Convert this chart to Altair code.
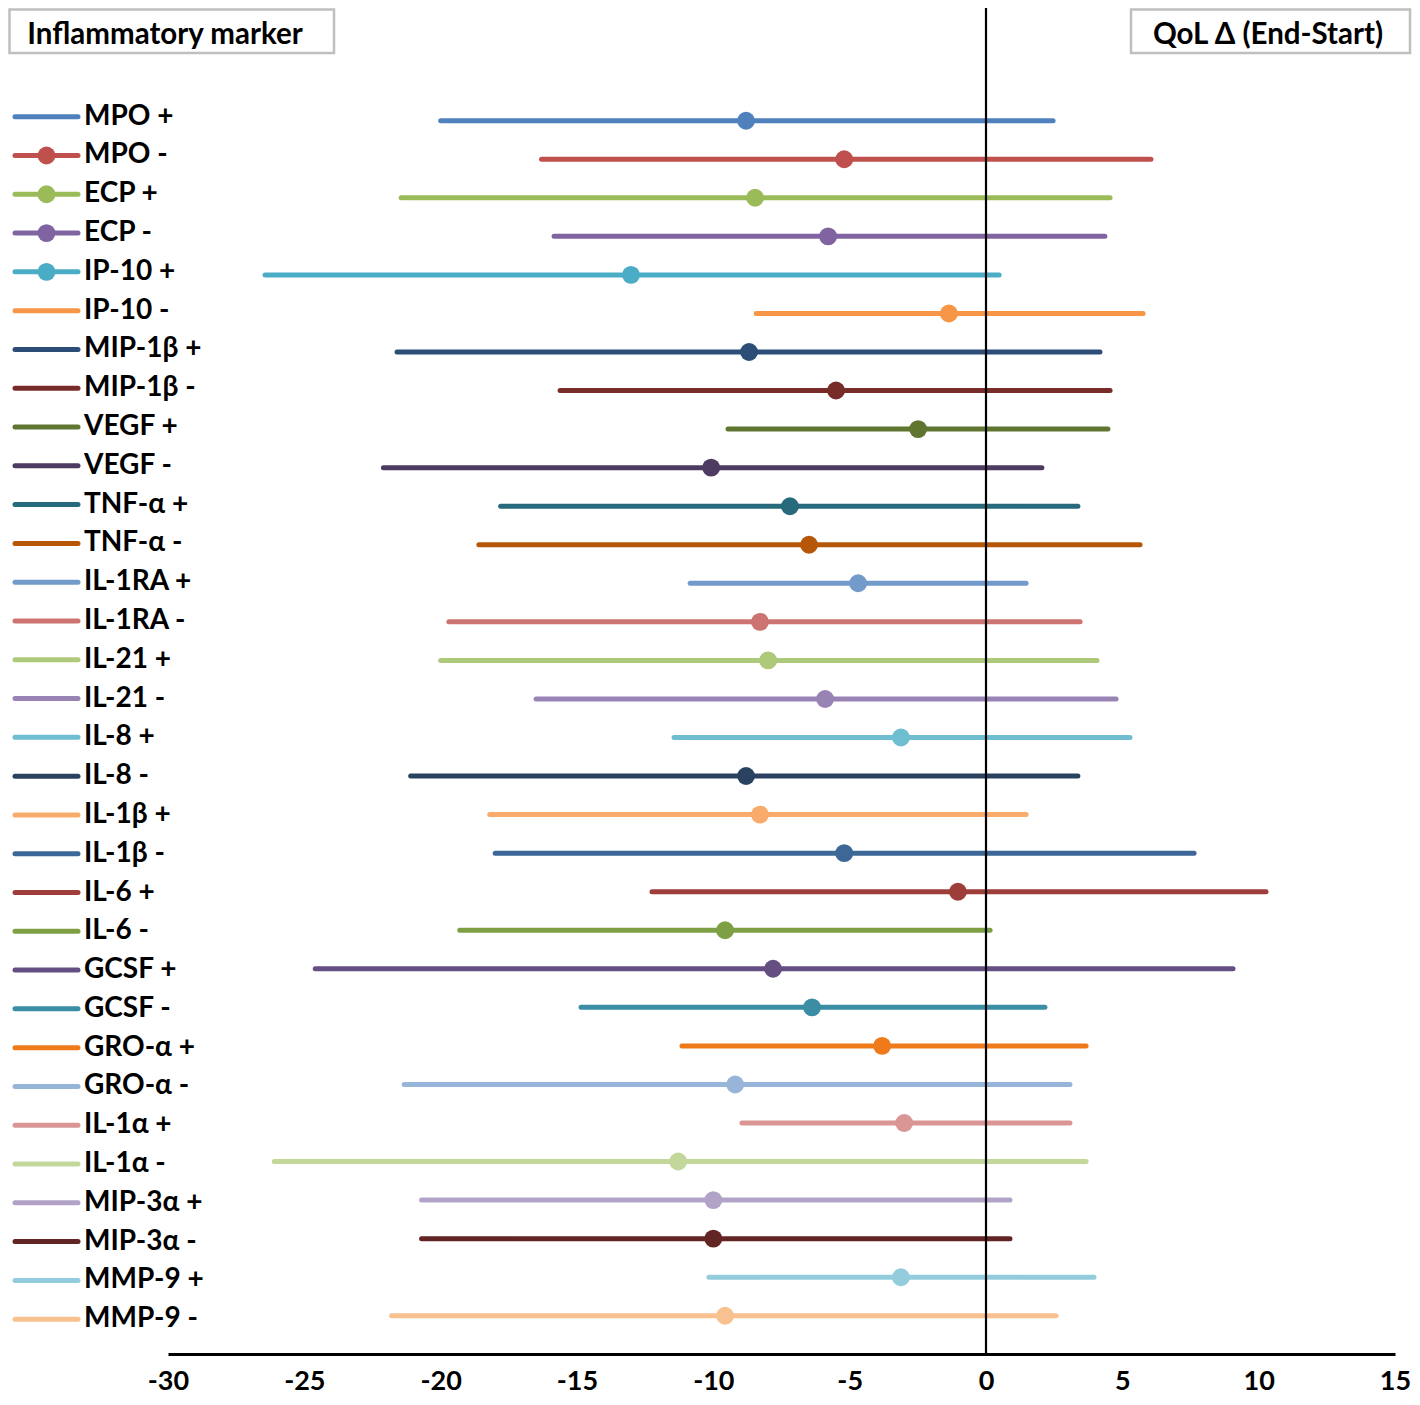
import altair as alt
import pandas as pd

LABELS = ["MPO +", "MPO -", "ECP +", "ECP -", "IP-10 +", "IP-10 -",
          "MIP-1β +", "MIP-1β -", "VEGF +", "VEGF -", "TNF-α +", "TNF-α -",
          "IL-1RA +", "IL-1RA -", "IL-21 +", "IL-21 -", "IL-8 +", "IL-8 -",
          "IL-1β +", "IL-1β -", "IL-6 +", "IL-6 -", "GCSF +", "GCSF -",
          "GRO-α +", "GRO-α -", "IL-1α +", "IL-1α -", "MIP-3α +", "MIP-3α -",
          "MMP-9 +", "MMP-9 -"]

LOW = [-20.0, -16.3, -21.45, -15.84, -26.44, -8.43,
       -21.6, -15.62, -9.46, -22.1, -17.8, -18.6,
       -10.85, -19.7, -20.0, -16.5, -11.44, -21.1,
       -18.2, -18.0, -12.25, -19.3, -24.6, -14.85,
       -11.15, -21.34, -8.95, -26.1, -20.7, -20.7,
       -10.16, -21.8]

EST = [-8.8, -5.2, -8.47, -5.79, -13.02, -1.36,
       -8.69, -5.5, -2.49, -10.08, -7.19, -6.49,
       -4.69, -8.29, -7.99, -5.9, -3.12, -8.8,
       -8.29, -5.2, -1.03, -9.57, -7.81, -6.38,
       -3.81, -9.2, -3.0, -11.29, -10.0, -10.0,
       -3.12, -9.57]

HIGH = [2.46, 6.05, 4.55, 4.36, 0.48, 5.76,
        4.18, 4.55, 4.47, 2.05, 3.37, 5.65,
        1.47, 3.45, 4.07, 4.77, 5.28, 3.37,
        1.47, 7.63, 10.27, 0.15, 9.06, 2.16,
        3.67, 3.08, 3.08, 3.67, 0.88, 0.88,
        3.96, 2.57]

COLORS = ["#4F81BD", "#C0504D", "#9BBB59", "#8064A2", "#4BACC6", "#F79646",
          "#2C4D75", "#772C2A", "#5F7530", "#4D3B62", "#276A7C", "#B65708",
          "#729ACA", "#CD7371", "#AFC97A", "#9983B5", "#6FBDD1", "#2A4260",
          "#F9AB6B", "#3C6796", "#9E3E3B", "#7F9F45", "#654F82", "#3A8DA3",
          "#EE7A1A", "#97B5D8", "#D99694", "#C4D79B", "#B2A2C8", "#632524",
          "#93CDDD", "#F9C090"]

LEGEND_MARKERS = ["MPO -", "ECP +", "ECP -", "IP-10 +"]
TICKS = [-30, -25, -20, -15, -10, -5, 0, 5, 10, 15]
TITLE_LEFT = "Inflammatory marker"
TITLE_RIGHT = "QoL Δ (End-Start)"

df = pd.DataFrame({"label": LABELS, "low": LOW, "est": EST, "high": HIGH})
df["row"] = range(len(df))
df["marker"] = df["label"].isin(LEGEND_MARKERS)

W, H = 1227, 1346
FONT = "Lato"

# data rows: first row centre 112.7px, spacing 38.55px
d_step, d_top = 38.55, 112.7
y_data = alt.Scale(domain=[-d_top / d_step, -d_top / d_step + H / d_step],
                   reverse=True, nice=False, zero=False)
l_step, l_top = 38.79, 108.7
y_leg = alt.Scale(domain=[-l_top / l_step, -l_top / l_step + H / l_step],
                  reverse=True, nice=False, zero=False)

xscale = alt.Scale(domain=[-30, 15], nice=False, zero=False)
color = alt.Color("label:N", scale=alt.Scale(domain=LABELS, range=COLORS), legend=None)

xaxis = alt.Axis(values=TICKS, ticks=False, grid=False, domainColor="black",
                 domainWidth=3, labelFont=FONT, labelFontSize=27,
                 labelFontWeight="bold", labelColor="black", labelPadding=14,
                 labelExpr="'' + datum.value",
                 labelFlush=False, labelOverlap=False, title=None)

bars = alt.Chart(df).mark_rule(strokeWidth=5, strokeCap="round").encode(
    x=alt.X("low:Q", scale=xscale, axis=xaxis),
    x2="high:Q",
    y=alt.Y("row:Q", scale=y_data, axis=None),
    color=color,
)

zero = alt.Chart(pd.DataFrame({"z": [0]})).mark_rule(color="black", strokeWidth=2.2).encode(
    x=alt.X("z:Q", scale=xscale),
    y=alt.value(0),
    y2=alt.value(H),
)

points = alt.Chart(df).mark_circle(size=320, opacity=1).encode(
    x=alt.X("est:Q", scale=xscale),
    y=alt.Y("row:Q", scale=y_data, axis=None),
    color=color,
)

leg_lines = alt.Chart(df).mark_rule(strokeWidth=5, strokeCap="round").encode(
    x=alt.value(-153),
    x2=alt.value(-90),
    y=alt.Y("row:Q", scale=y_leg, axis=None),
    color=color,
)

leg_dots = alt.Chart(df).transform_filter(alt.datum.marker).mark_circle(size=320, opacity=1).encode(
    x=alt.value(-121.5),
    y=alt.Y("row:Q", scale=y_leg, axis=None),
    color=color,
)

leg_text = alt.Chart(df).mark_text(align="left", baseline="middle", font=FONT,
                                   fontSize=28, fontWeight="bold", color="black").encode(
    x=alt.value(-84),
    y=alt.Y("row:Q", scale=y_leg, axis=None),
    text="label:N",
)

box_l = alt.Chart(pd.DataFrame({"t": [TITLE_LEFT]})).mark_rect(
    fill="white", stroke="#BFBFBF", strokeWidth=2.5).encode(
    x=alt.value(-158.5), x2=alt.value(166), y=alt.value(1.5), y2=alt.value(45))
txt_l = alt.Chart(pd.DataFrame({"t": [TITLE_LEFT]})).mark_text(
    align="center", baseline="middle", font=FONT, fontSize=29.5, fontWeight="bold",
    color="black").encode(x=alt.value(-3), y=alt.value(26.5), text="t:N")

box_r = alt.Chart(pd.DataFrame({"t": [TITLE_RIGHT]})).mark_rect(
    fill="white", stroke="#BFBFBF", strokeWidth=2.5).encode(
    x=alt.value(963), x2=alt.value(1242), y=alt.value(1.5), y2=alt.value(45))
txt_r = alt.Chart(pd.DataFrame({"t": [TITLE_RIGHT]})).mark_text(
    align="center", baseline="middle", font=FONT, fontSize=29.5, fontWeight="bold",
    color="black").encode(x=alt.value(1100), y=alt.value(26.5), text="t:N")

chart = alt.layer(
    bars, zero, points, leg_lines, leg_dots, leg_text, box_l, txt_l, box_r, txt_r
).resolve_scale(y="independent").properties(
    width=W, height=H,
    padding={"left": 160, "top": 0, "right": 17, "bottom": 43},
    autosize=alt.AutoSizeParams(type="none"),
).configure_view(stroke=None)

chart.save("out.html", embed_options={"renderer": "svg", "actions": False})
